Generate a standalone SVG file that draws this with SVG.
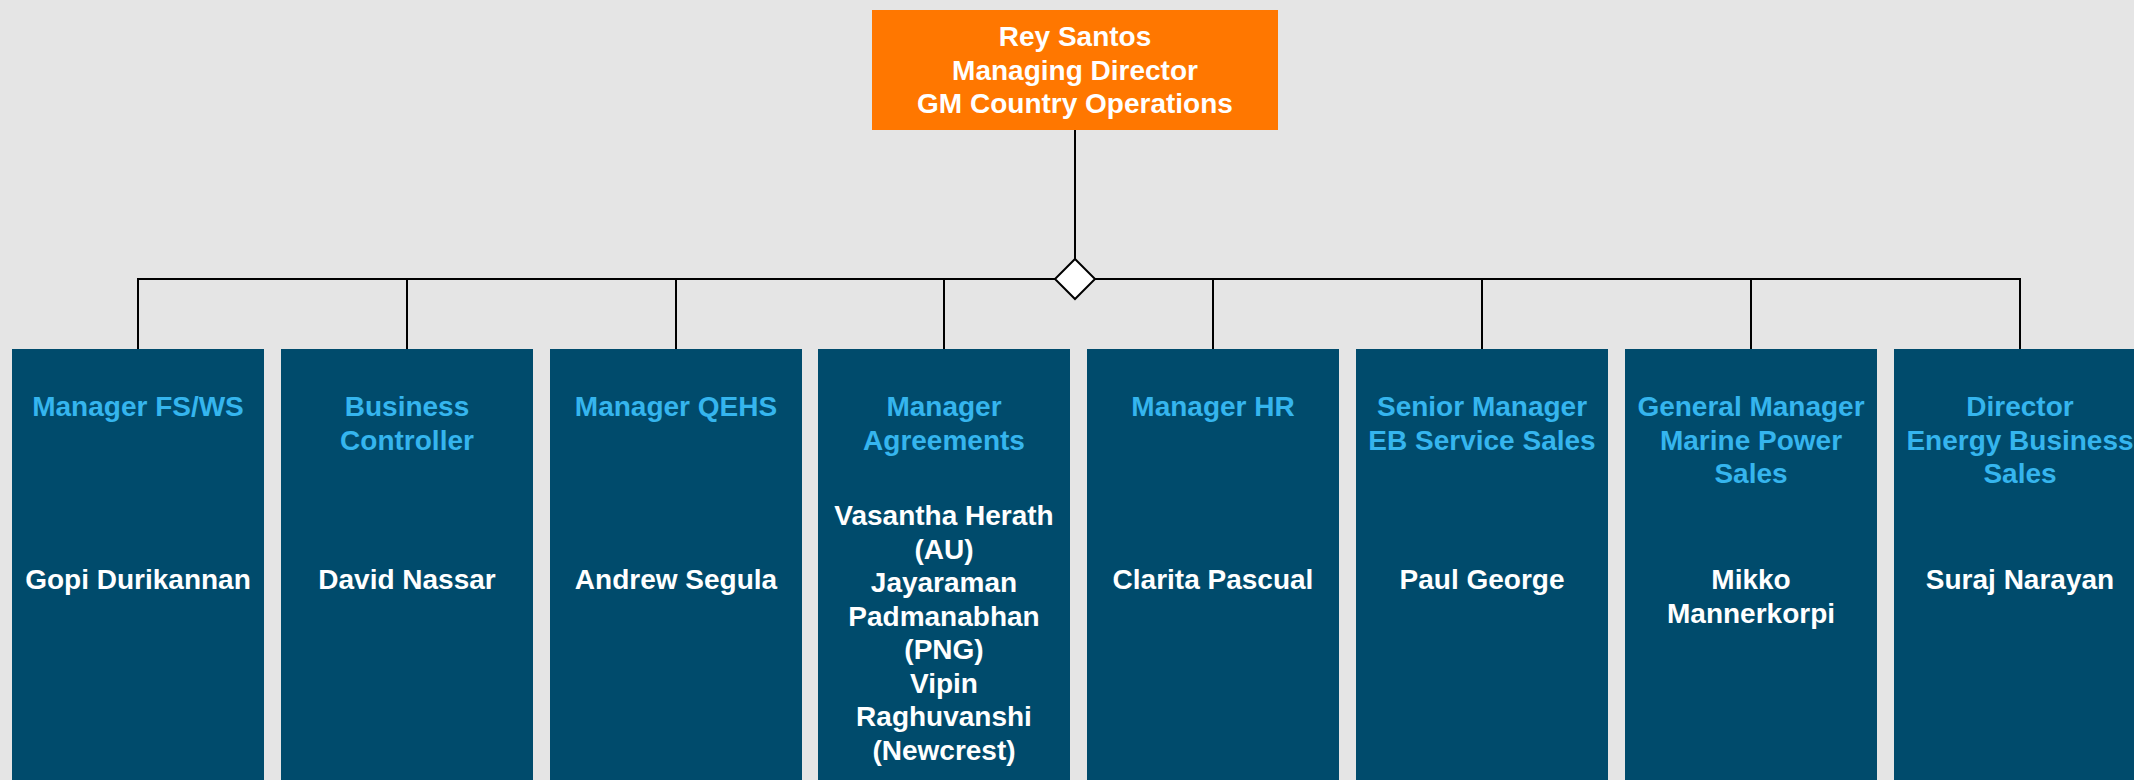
<svg xmlns="http://www.w3.org/2000/svg" width="2134" height="780" viewBox="0 0 2134 780">
<style>
text{font-family:"Liberation Sans",Arial,Helvetica,sans-serif;font-weight:bold;font-size:28px;text-anchor:middle}
.box{fill:#004b6c}
.top{fill:#ff7700}
.ttl{fill:#35b5ee}
.nm{fill:#ffffff}
.ln{stroke:#000;stroke-width:2;fill:none}
</style>
<rect x="0" y="0" width="2134" height="780" fill="#e5e5e5"/>
<g id="connectors">
<line class="ln" x1="1075" y1="130" x2="1075" y2="259"/>
<line class="ln" x1="138" y1="279" x2="2020" y2="279"/>
<line class="ln" x1="138" y1="278" x2="138" y2="349"/>
<line class="ln" x1="407" y1="278" x2="407" y2="349"/>
<line class="ln" x1="676" y1="278" x2="676" y2="349"/>
<line class="ln" x1="944" y1="278" x2="944" y2="349"/>
<line class="ln" x1="1213" y1="278" x2="1213" y2="349"/>
<line class="ln" x1="1482" y1="278" x2="1482" y2="349"/>
<line class="ln" x1="1751" y1="278" x2="1751" y2="349"/>
<line class="ln" x1="2020" y1="278" x2="2020" y2="349"/>
<polygon points="1075,259 1095,279 1075,299 1055,279" fill="#fff" stroke="#000" stroke-width="2"/>
</g>
<g id="n-rey">
<rect class="top" x="872" y="10" width="406" height="120"/>
<text class="nm" x="1075" y="46">Rey Santos</text>
<text class="nm" x="1075" y="79.5">Managing Director</text>
<text class="nm" x="1075" y="113">GM Country Operations</text>
</g>
<g id="n-fsws">
<rect class="box" x="12" y="349" width="252" height="440"/>
<text class="ttl" x="138" y="416">Manager FS/WS</text>
<text class="nm" x="138" y="589">Gopi Durikannan</text>
</g>
<g id="n-bc">
<rect class="box" x="281" y="349" width="252" height="440"/>
<text class="ttl" x="407" y="416">Business</text>
<text class="ttl" x="407" y="449.5">Controller</text>
<text class="nm" x="407" y="589">David Nassar</text>
</g>
<g id="n-qehs">
<rect class="box" x="550" y="349" width="252" height="440"/>
<text class="ttl" x="676" y="416">Manager QEHS</text>
<text class="nm" x="676" y="589">Andrew Segula</text>
</g>
<g id="n-agr">
<rect class="box" x="818" y="349" width="252" height="440"/>
<text class="ttl" x="944" y="416">Manager</text>
<text class="ttl" x="944" y="449.5">Agreements</text>
<text class="nm" x="944" y="525">Vasantha Herath</text>
<text class="nm" x="944" y="558.5">(AU)</text>
<text class="nm" x="944" y="592">Jayaraman</text>
<text class="nm" x="944" y="625.5">Padmanabhan</text>
<text class="nm" x="944" y="659">(PNG)</text>
<text class="nm" x="944" y="692.5">Vipin</text>
<text class="nm" x="944" y="726">Raghuvanshi</text>
<text class="nm" x="944" y="759.5">(Newcrest)</text>
</g>
<g id="n-hr">
<rect class="box" x="1087" y="349" width="252" height="440"/>
<text class="ttl" x="1213" y="416">Manager HR</text>
<text class="nm" x="1213" y="589">Clarita Pascual</text>
</g>
<g id="n-eb">
<rect class="box" x="1356" y="349" width="252" height="440"/>
<text class="ttl" x="1482" y="416">Senior Manager</text>
<text class="ttl" x="1482" y="449.5">EB Service Sales</text>
<text class="nm" x="1482" y="589">Paul George</text>
</g>
<g id="n-marine">
<rect class="box" x="1625" y="349" width="252" height="440"/>
<text class="ttl" x="1751" y="416">General Manager</text>
<text class="ttl" x="1751" y="449.5">Marine Power</text>
<text class="ttl" x="1751" y="483">Sales</text>
<text class="nm" x="1751" y="589">Mikko</text>
<text class="nm" x="1751" y="622.5">Mannerkorpi</text>
</g>
<g id="n-energy">
<rect class="box" x="1894" y="349" width="252" height="440"/>
<text class="ttl" x="2020" y="416">Director</text>
<text class="ttl" x="2020" y="449.5">Energy Business</text>
<text class="ttl" x="2020" y="483">Sales</text>
<text class="nm" x="2020" y="589">Suraj Narayan</text>
</g>
</svg>
